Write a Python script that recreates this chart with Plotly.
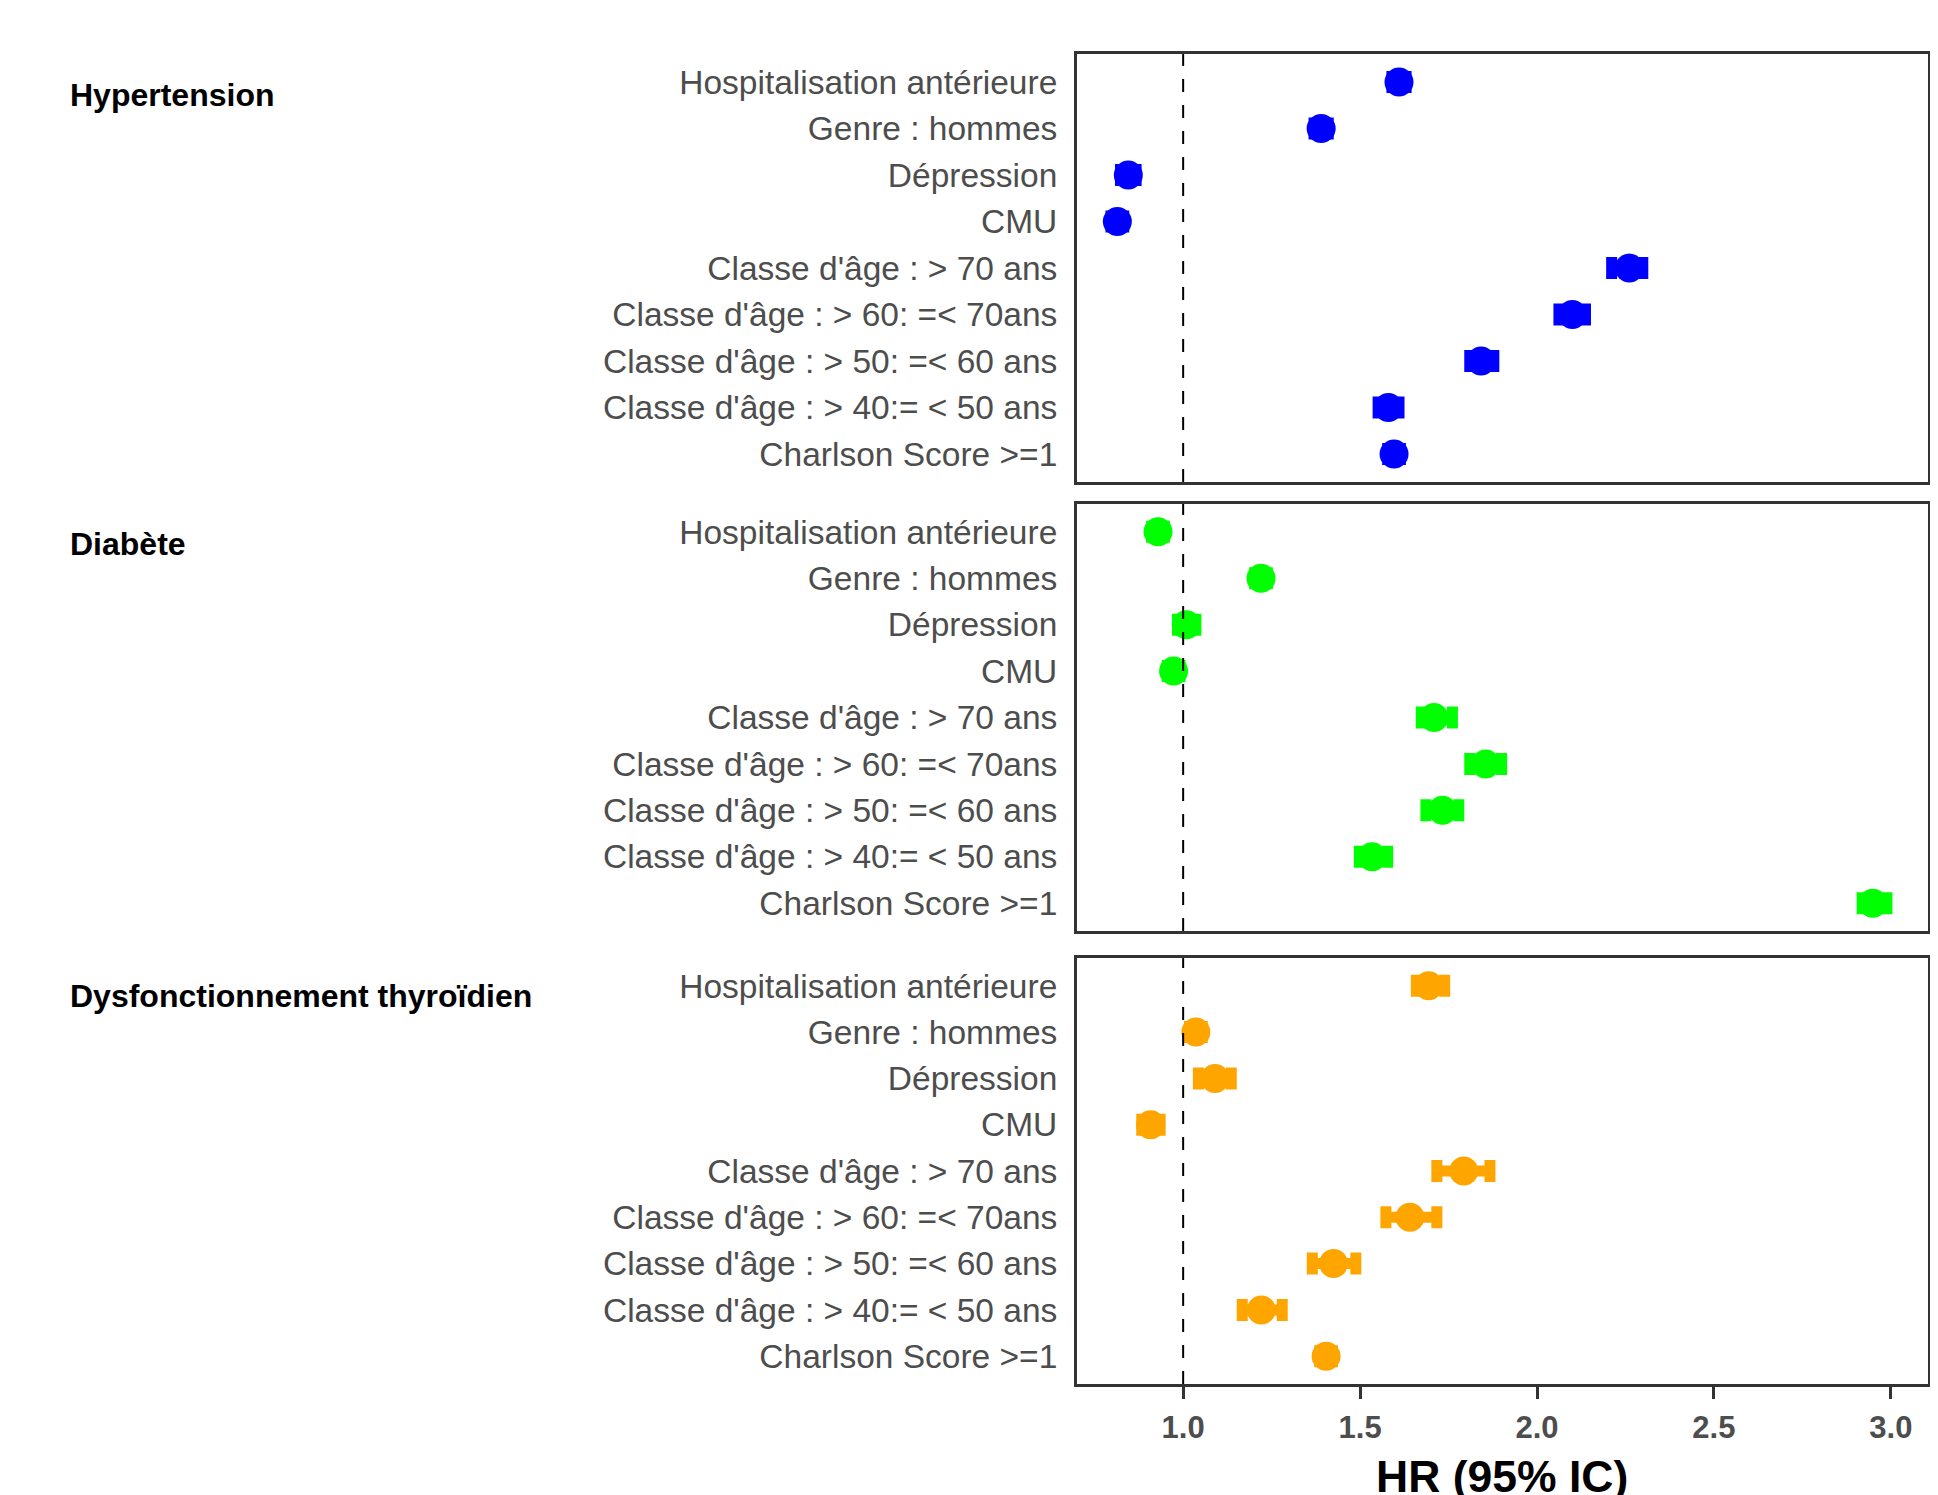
import plotly.graph_objects as go

# ---------------- data ----------------
categories = [
    "Hospitalisation antérieure",
    "Genre : hommes",
    "Dépression",
    "CMU",
    "Classe d'âge : > 70 ans",
    "Classe d'âge : > 60: =< 70ans",
    "Classe d'âge : > 50: =< 60 ans",
    "Classe d'âge : > 40:= < 50 ans",
    "Charlson Score >=1",
]

groups = ["Hypertension", "Diabète", "Dysfonctionnement thyroïdien"]
group_colors = ["#0000FF", "#00FF00", "#FFA500"]

hr_hypertension = [1.61, 1.39, 0.845, 0.814, 2.261, 2.100, 1.842, 1.580, 1.596]
lo_hypertension = [1.59, 1.37, 0.823, 0.796, 2.211, 2.062, 1.810, 1.551, 1.578]
hi_hypertension = [1.63, 1.41, 0.867, 0.832, 2.299, 2.137, 1.878, 1.610, 1.614]

hr_diabete = [0.929, 1.220, 1.009, 0.973, 1.709, 1.855, 1.733, 1.534, 2.949]
lo_diabete = [0.911, 1.202, 0.984, 0.955, 1.673, 1.810, 1.686, 1.498, 2.919]
hi_diabete = [0.947, 1.238, 1.036, 0.991, 1.761, 1.900, 1.779, 1.578, 2.989]

hr_thyroide = [1.694, 1.036, 1.090, 0.908, 1.793, 1.641, 1.425, 1.221, 1.404]
lo_thyroide = [1.659, 1.018, 1.043, 0.883, 1.717, 1.573, 1.365, 1.167, 1.386]
hi_thyroide = [1.739, 1.054, 1.136, 0.935, 1.867, 1.717, 1.488, 1.280, 1.422]

x_ticks = [1.0, 1.5, 2.0, 2.5, 3.0]
x_tick_labels = ["1.0", "1.5", "2.0", "2.5", "3.0"]
ref_hr = 1.0
x_title = "HR (95% IC)"

series = [
    (hr_hypertension, lo_hypertension, hi_hypertension),
    (hr_diabete, lo_diabete, hi_diabete),
    (hr_thyroide, lo_thyroide, hi_thyroide),
]

# ---------------- layout geometry ----------------
OFF = 8  # default body margin of the html page
W, H = 1938 - OFF, 1495 - OFF
FONT = "Liberation Sans Narrow, Arial Narrow, Liberation Sans, Arial, sans-serif"
x_dom = [(1077 - OFF) / W, (1928 - OFF) / W]
panel_px = [(54, 482), (504, 931), (958, 1384)]
title_px = [95, 544, 996]


def py(v):
    return 1 - (v - OFF) / H


fig = go.Figure()
layout = dict(
    width=W, height=H,
    margin=dict(l=0, r=0, t=0, b=0),
    paper_bgcolor="white", plot_bgcolor="white",
    showlegend=False,
    font=dict(family=FONT, color="#4D4D4D"),
    shapes=[], annotations=[],
)

for i, (g, col, (hr, lo, hi)) in enumerate(zip(groups, group_colors, series)):
    n = i + 1
    xa = "x" if n == 1 else f"x{n}"
    ya = "y" if n == 1 else f"y{n}"
    fig.add_trace(go.Scatter(
        x=hr, y=categories, mode="markers",
        xaxis=xa, yaxis=ya,
        marker=dict(symbol="circle", size=29, color=col, line=dict(width=0)),
        error_x=dict(type="data", symmetric=False,
                     array=[h - v for h, v in zip(hi, hr)],
                     arrayminus=[v - l for v, l in zip(hr, lo)],
                     color=col, thickness=11, width=11),
        hoverinfo="x+y",
    ))
    top, bot = panel_px[i]
    ydom = [py(bot), py(top)]
    last = (n == 3)
    layout["xaxis" if n == 1 else f"xaxis{n}"] = dict(
        domain=x_dom, anchor=ya, range=[0.70, 3.105],
        tickvals=x_ticks, ticktext=x_tick_labels,
        showticklabels=last, ticks="outside" if last else "",
        ticklen=12, tickwidth=3, tickcolor="#333333",
        tickfont=dict(family=FONT, size=31, color="#4D4D4D", weight="bold"),
        ticklabelstandoff=2,
        showgrid=False, zeroline=False,
        showline=True, mirror=True, linecolor="#333333", linewidth=3,
    )
    layout["yaxis" if n == 1 else f"yaxis{n}"] = dict(
        domain=ydom, anchor=xa,
        type="category", categoryorder="array",
        categoryarray=categories[::-1], range=[-0.6, 8.6],
        ticks="", showgrid=False, zeroline=False,
        tickfont=dict(family=FONT, size=33.5, color="#4D4D4D"),
        ticklabelstandoff=10,
        showline=True, mirror=True, linecolor="#333333", linewidth=3,
    )
    layout["shapes"].append(dict(
        type="line", xref=xa, yref=f"{ya} domain",
        x0=ref_hr, x1=ref_hr, y0=0, y1=1,
        line=dict(color="black", width=2, dash="13px,13px"),
    ))
    layout["annotations"].append(dict(
        text=f"<b>{g}</b>", xref="paper", yref="paper",
        x=(68 - OFF) / W, y=py(title_px[i]), xanchor="left", yanchor="middle",
        showarrow=False, font=dict(family=FONT, size=32, color="black"),
    ))

layout["annotations"].append(dict(
    text=f"<b>{x_title}</b>", xref="paper", yref="paper",
    x=(x_dom[0] + x_dom[1]) / 2, y=py(1450), xanchor="center", yanchor="top",
    showarrow=False, font=dict(family=FONT, size=44.5, color="black"),
))

fig.update_layout(**layout)
fig.write_html("out.html")
